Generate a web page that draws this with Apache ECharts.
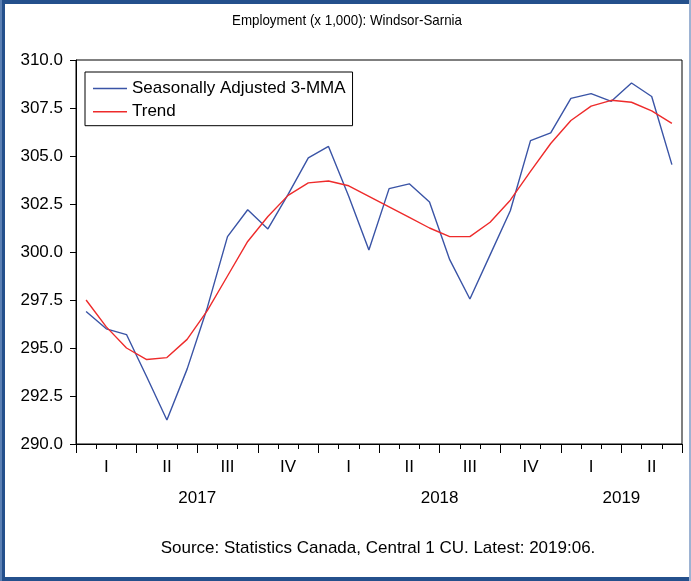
<!DOCTYPE html>
<html>
<head>
<meta charset="utf-8">
<title>Employment (x 1,000): Windsor-Sarnia</title>
<script src="https://cdn.jsdelivr.net/npm/echarts@6/dist/echarts.min.js"></script>
<style>
  html, body { margin: 0; padding: 0; background: #fff; }
  #chart { width: 691px; height: 581px; }
</style>
</head>
<body>
<div id="chart"></div>
<script>
// Monthly observations, Jan 2017 – Jun 2019
const months = [
  '2017-01','2017-02','2017-03','2017-04','2017-05','2017-06',
  '2017-07','2017-08','2017-09','2017-10','2017-11','2017-12',
  '2018-01','2018-02','2018-03','2018-04','2018-05','2018-06',
  '2018-07','2018-08','2018-09','2018-10','2018-11','2018-12',
  '2019-01','2019-02','2019-03','2019-04','2019-05','2019-06'
];

// Seasonally adjusted, 3-month moving average (thousands)
const seasonallyAdjusted = [
  296.9, 296.0, 295.7, 293.5, 291.25, 293.9,
  297.1, 300.8, 302.2, 301.2, 303.0, 304.9,
  305.5, 302.9, 300.1, 303.3, 303.55, 302.6,
  299.6, 297.55, 299.85, 302.15, 305.8, 306.2,
  308.0, 308.25, 307.85, 308.8, 308.1, 304.55
];

// Trend-cycle estimate (thousands)
const trend = [
  297.5, 296.1, 295.0, 294.4, 294.5, 295.45,
  296.95, 298.75, 300.55, 301.85, 302.95, 303.6,
  303.7, 303.45, 302.9, 302.35, 301.8, 301.25,
  300.8, 300.8, 301.55, 302.7, 304.2, 305.65,
  306.85, 307.6, 307.9, 307.8, 307.35, 306.7
];

// Quarter labels under the month axis
const quarters = ['I', 'II', 'III', 'IV', 'I', 'II', 'III', 'IV', 'I', 'II'];

// Year labels, placed on month boundaries (index = boundary position)
const yearLabels = { 6: '2017', 18: '2018', 27: '2019' };

// Y axis range and step
const yMin = 290, yMax = 310, yStep = 2.5;

const FONT = '"Liberation Sans", Arial, sans-serif';
const BLUE = '#3a54a6';
const RED = '#ee2b2b';
const LABEL_SIZE = 17;

const boundaries = [];
for (let i = 0; i <= months.length; i++) boundaries.push(yearLabels[i] || '');

const chart = echarts.init(document.getElementById('chart'), null, { renderer: 'canvas' });

chart.setOption({
  backgroundColor: '#fff',
  animation: false,
  legend: {
    orient: 'vertical',
    left: 85,
    top: 72,
    padding: [8, 7, 5.5, 8],
    icon: 'rect',
    itemWidth: 34,
    itemHeight: 1.5,
    itemGap: 6.2,
    borderColor: '#000',
    borderWidth: 1,
    backgroundColor: '#fff',
    textStyle: { fontFamily: FONT, fontSize: LABEL_SIZE, color: '#000' },
    data: ['Seasonally Adjusted 3-MMA', 'Trend']
  },
  grid: { left: 76, right: 9, top: 60, bottom: 137, show: true, borderColor: '#000', borderWidth: 1 },
  xAxis: [
    {
      // month axis: short ticks at every month boundary
      type: 'category',
      data: months,
      boundaryGap: true,
      position: 'bottom',
      axisLine: { lineStyle: { color: '#000', width: 1 } },
      axisTick: { show: true, interval: 0, length: 5, lineStyle: { color: '#000' } },
      axisLabel: { show: false },
      splitLine: { show: false }
    },
    {
      // quarter axis: longer ticks and roman numerals
      type: 'category',
      data: quarters,
      boundaryGap: true,
      position: 'bottom',
      axisLine: { show: false },
      axisTick: { show: true, interval: 0, length: 9, lineStyle: { color: '#000' } },
      axisLabel: { interval: 0, margin: 15, fontFamily: FONT, fontSize: LABEL_SIZE, color: '#000' },
      splitLine: { show: false }
    },
    {
      // year axis: labels on month boundaries
      type: 'category',
      data: boundaries,
      boundaryGap: false,
      position: 'bottom',
      axisLine: { show: false },
      axisTick: { show: false },
      axisLabel: { interval: 0, margin: 46, fontFamily: FONT, fontSize: LABEL_SIZE, color: '#000' },
      splitLine: { show: false }
    }
  ],
  yAxis: {
    type: 'value',
    min: yMin,
    max: yMax,
    interval: yStep,
    axisLine: { show: true, lineStyle: { color: '#000', width: 1 } },
    axisTick: { show: true, length: 6, lineStyle: { color: '#000' } },
    axisLabel: {
      margin: 13,
      fontFamily: FONT,
      fontSize: LABEL_SIZE,
      color: '#000',
      formatter: v => v.toFixed(1)
    },
    splitLine: { show: false }
  },
  series: [
    {
      name: 'Seasonally Adjusted 3-MMA',
      type: 'line',
      xAxisIndex: 0,
      data: seasonallyAdjusted,
      symbol: 'none',
      lineStyle: { color: BLUE, width: 1.4 },
      itemStyle: { color: BLUE }
    },
    {
      name: 'Trend',
      type: 'line',
      xAxisIndex: 0,
      data: trend,
      symbol: 'none',
      lineStyle: { color: RED, width: 1.4 },
      itemStyle: { color: RED }
    }
  ],
  graphic: [
    {
      // chart title, set in a slightly condensed face
      type: 'text',
      x: 347,
      y: 21,
      scaleX: 0.89,
      style: {
        text: 'Employment (x 1,000): Windsor-Sarnia',
        font: '15px ' + FONT,
        fill: '#000',
        align: 'center',
        verticalAlign: 'middle'
      }
    },
    {
      type: 'text',
      x: 378,
      y: 548,
      style: {
        text: 'Source: Statistics Canada, Central 1 CU. Latest: 2019:06.',
        font: LABEL_SIZE + 'px ' + FONT,
        fill: '#000',
        align: 'center',
        verticalAlign: 'middle'
      }
    },
    // page frame
    { type: 'rect', shape: { x: 0, y: 0, width: 691, height: 4 }, style: { fill: '#24508c' }, silent: true },
    { type: 'rect', shape: { x: 0, y: 577, width: 691, height: 4 }, style: { fill: '#24508c' }, silent: true },
    { type: 'rect', shape: { x: 0, y: 0, width: 2, height: 581 }, style: { fill: '#5b80b4' }, silent: true },
    { type: 'rect', shape: { x: 2, y: 0, width: 3, height: 581 }, style: { fill: '#24508c' }, silent: true },
    { type: 'rect', shape: { x: 689, y: 0, width: 2, height: 581 }, style: { fill: '#9db3d3' }, silent: true }
  ]
});
</script>
</body>
</html>
